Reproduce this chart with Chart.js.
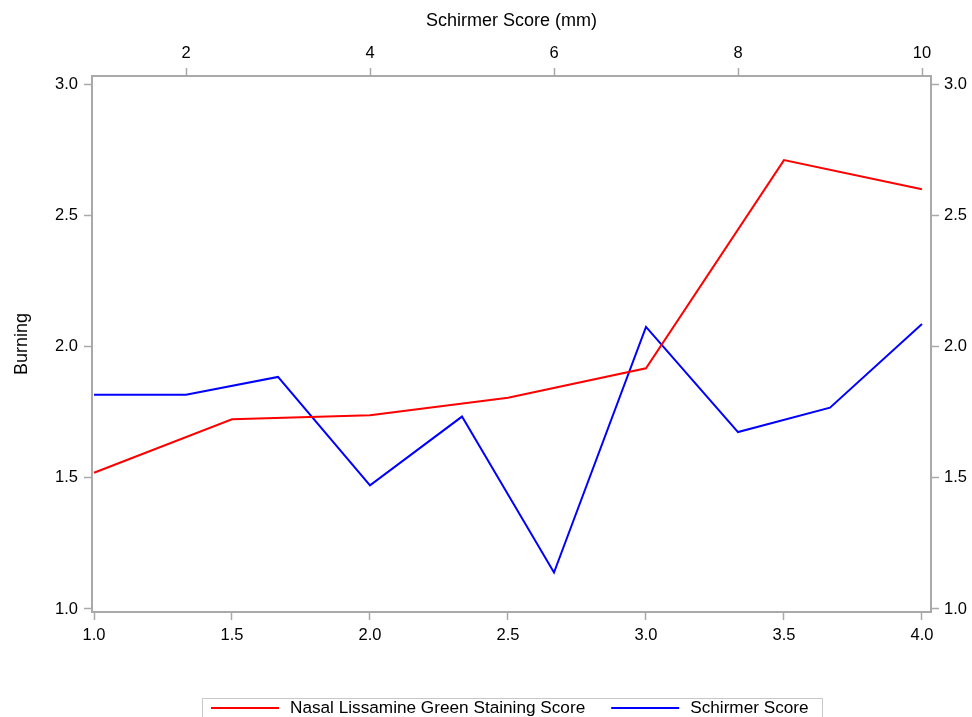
<!DOCTYPE html>
<html>
<head>
<meta charset="utf-8">
<script src="https://cdn.jsdelivr.net/npm/chart.js@4.4.1/dist/chart.umd.min.js"></script>
<style>
  html, body { margin: 0; padding: 0; background: #ffffff; }
  #wrap { width: 972px; height: 717px; position: relative; }
</style>
</head>
<body>
<div id="wrap"><canvas id="chart" width="972" height="717"></canvas></div>
<script>
// Mean burning score by nasal lissamine green staining score (bottom axis)
const stainingScores = [1.0, 1.5, 2.0, 2.5, 3.0, 3.5, 4.0];
const burningByStaining = [1.519, 1.723, 1.738, 1.805, 1.917, 2.710, 2.599];

// Mean burning score by Schirmer score in mm (top axis)
const schirmerScores = [1, 2, 3, 4, 5, 6, 7, 8, 9, 10];
const burningBySchirmer = [1.816, 1.816, 1.884, 1.471, 1.733, 1.139, 2.075, 1.674, 1.767, 2.086];

// Tick labels
const stainingTicks = [1.0, 1.5, 2.0, 2.5, 3.0, 3.5, 4.0];
const schirmerTicks = [2, 4, 6, 8, 10];
const burningTicks = [1.0, 1.5, 2.0, 2.5, 3.0];

const seriesNames = ['Nasal Lissamine Green Staining Score', 'Schirmer Score'];
const seriesColors = ['#ff0000', '#0000ff'];

const FONT = '"Liberation Sans", Arial, sans-serif';
const AXIS_GRAY = '#a9a9a9';

function fixedTicks(values) {
  return function (scale) {
    scale.ticks = values.map(v => ({ value: v }));
  };
}

function axisBase(extra) {
  return Object.assign({
    type: 'linear',
    grid: {
      drawOnChartArea: false,
      drawTicks: true,
      tickLength: 8,
      tickWidth: 1.5,
      tickColor: AXIS_GRAY
    },
    border: { display: true, color: AXIS_GRAY, width: 2 },
  }, extra);
}

const tickFont = { family: FONT, size: 16.5 };
const titleFont = { family: FONT, size: 18 };

// Framed legend under the plot
const boxedLegend = {
  id: 'boxedLegend',
  afterDraw(chart) {
    const ctx = chart.ctx;
    ctx.save();
    ctx.strokeStyle = '#c8c8c8';
    ctx.lineWidth = 1;
    ctx.strokeRect(202.5, 698.5, 620, 40);
    ctx.font = '17.2px ' + FONT;
    ctx.textBaseline = 'middle';
    ctx.textAlign = 'left';
    const y = 708;
    let x = 211;
    chart.data.datasets.forEach((ds, i) => {
      ctx.strokeStyle = ds.borderColor;
      ctx.lineWidth = 2;
      ctx.beginPath();
      ctx.moveTo(x, y);
      ctx.lineTo(x + 68, y);
      ctx.stroke();
      x += 79;
      ctx.fillStyle = '#000000';
      ctx.fillText(ds.label, x, y);
      x += ctx.measureText(ds.label).width + 26;
    });
    ctx.restore();
  }
};

new Chart(document.getElementById('chart'), {
  type: 'line',
  data: {
    datasets: [
      {
        label: seriesNames[0],
        data: stainingScores.map((v, i) => ({ x: v, y: burningByStaining[i] })),
        borderColor: seriesColors[0],
        backgroundColor: seriesColors[0],
        borderWidth: 2,
        pointRadius: 0,
        tension: 0,
        xAxisID: 'x',
        yAxisID: 'y'
      },
      {
        label: seriesNames[1],
        data: schirmerScores.map((v, i) => ({ x: v, y: burningBySchirmer[i] })),
        borderColor: seriesColors[1],
        backgroundColor: seriesColors[1],
        borderWidth: 2,
        pointRadius: 0,
        tension: 0,
        xAxisID: 'x2',
        yAxisID: 'y'
      }
    ]
  },
  options: {
    responsive: false,
    animation: false,
    devicePixelRatio: 1,
    layout: { padding: 0 },
    plugins: {
      legend: { display: false },
      tooltip: { enabled: false }
    },
    scales: {
      x: axisBase({
        position: 'bottom',
        min: 0.99275,
        max: 4.0327,
        afterBuildTicks: fixedTicks(stainingTicks),
        afterFit(s) { s.height = 105; },
        ticks: {
          autoSkip: false, maxRotation: 0, padding: 6,
          color: '#000000', font: tickFont,
          callback: v => Number(v).toFixed(1)
        }
      }),
      x2: axisBase({
        position: 'top',
        min: 0.97826,
        max: 10.0978,
        afterBuildTicks: fixedTicks(schirmerTicks),
        afterFit(s) { s.height = 76; },
        ticks: {
          autoSkip: false, maxRotation: 0, padding: 5,
          color: '#000000', font: tickFont,
          callback: v => String(v)
        },
        title: {
          display: true, text: 'Schirmer Score (mm)',
          color: '#000000', font: titleFont,
          padding: { top: 10, bottom: 0 }
        }
      }),
      y: axisBase({
        position: 'left',
        min: 0.98857,
        max: 3.03048,
        afterBuildTicks: fixedTicks(burningTicks),
        afterFit(s) { s.width = 92; },
        ticks: {
          autoSkip: false, padding: 6,
          color: '#000000', font: tickFont,
          callback: v => Number(v).toFixed(1)
        },
        title: {
          display: true, text: 'Burning',
          color: '#000000', font: titleFont,
          padding: { top: 11, bottom: 0 }
        }
      }),
      y2: axisBase({
        position: 'right',
        min: 0.98857,
        max: 3.03048,
        afterBuildTicks: fixedTicks(burningTicks),
        afterFit(s) { s.width = 41; },
        ticks: {
          autoSkip: false, padding: 5,
          color: '#000000', font: tickFont,
          callback: v => Number(v).toFixed(1)
        }
      })
    }
  },
  plugins: [boxedLegend]
});
</script>
</body>
</html>
